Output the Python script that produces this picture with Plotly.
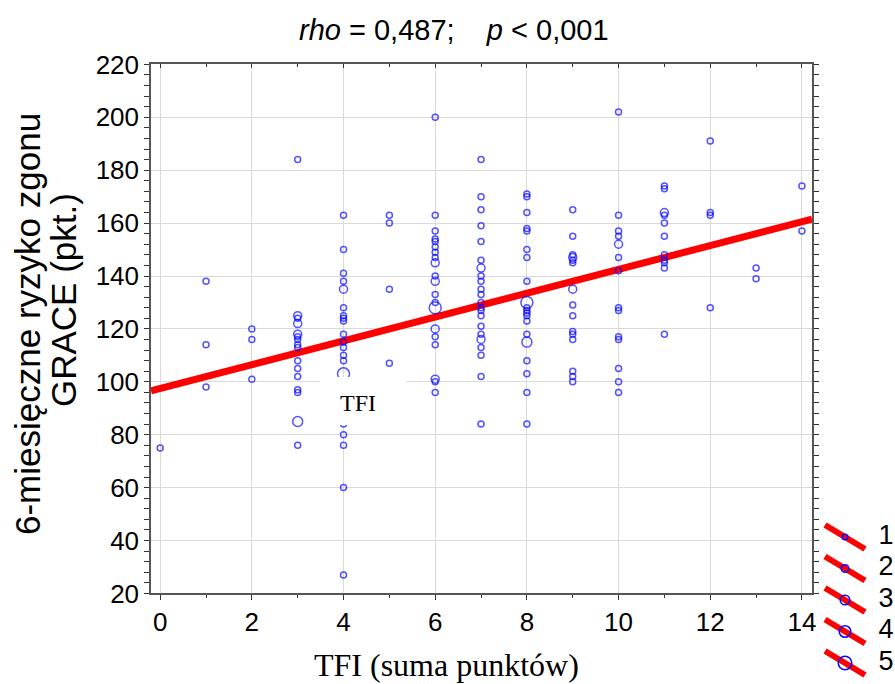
import plotly.graph_objects as go

# ---------------- data ----------------
# single points per TFI score (GRACE 6-month risk, points)
grace_tfi0 = [75]
grace_tfi1 = [138, 114, 98]
grace_tfi2 = [120, 116, 101]
grace_tfi3 = [184, 124, 117, 116, 114, 113, 108, 105, 102, 97, 96, 76]
grace_tfi4 = [163, 150, 141, 138, 128, 125, 124, 123, 118, 115, 113, 110, 108, 84, 80, 76, 60, 27]
grace_tfi5 = [163, 160, 135, 107]
grace_tfi6 = [200, 163, 157, 154, 153, 151, 149, 147, 140, 133, 130, 117, 114, 100, 96]
grace_tfi7 = [184, 170, 165, 159, 153, 146, 140, 138, 135, 133, 130, 128, 127, 125, 121, 118, 113, 110, 102, 84]
grace_tfi8 = [171, 170, 164, 158, 157, 150, 147, 138, 128, 127, 126, 125, 123, 118, 108, 103, 96, 84]
grace_tfi9 = [165, 155, 148, 146, 145, 129, 125, 119, 118, 116, 104, 102, 100]
grace_tfi10 = [202, 163, 157, 155, 147, 142, 128, 127, 117, 116, 105, 100, 96]
grace_tfi11 = [174, 173, 163, 160, 155, 148, 146, 145, 143, 118]
grace_tfi12 = [191, 164, 163, 128]
grace_tfi13 = [143, 139]
grace_tfi14 = [174, 157]

# overlapping observations (drawn as larger circles)
overlap_tfi = [3, 3, 3, 3, 4, 4, 6, 6, 6, 6, 6, 7, 7, 8, 8, 9, 9, 10, 11]
overlap_grace = [125, 122, 118, 85, 135, 103, 145, 138, 128, 120, 101, 143, 116, 130, 115, 147, 135, 152, 164]
overlap_n = [2, 2, 2, 3, 2, 4, 2, 2, 4, 2, 2, 2, 2, 4, 3, 2, 2, 2, 2]

# regression line
fit_intercept = 97.5
fit_slope = 4.5

legend_counts = [1, 2, 3, 4, 5]

x_ticks = [0, 2, 4, 6, 8, 10, 12, 14]
y_ticks = [20, 40, 60, 80, 100, 120, 140, 160, 180, 200, 220]

# ---------------- layout constants ----------------
W, H = 895, 684
PX0, PX1, PY0, PY1 = 151, 812, 64.4, 593.4
X_MIN, X_MAX = -0.2, 14.22
Y_MIN, Y_MAX = 20, 220
SIZE_PX = {1: 6, 2: 8, 3: 10, 4: 12, 5: 14}
BLUE = "#0a0aff"
RED = "#ff0000"

columns = [grace_tfi0, grace_tfi1, grace_tfi2, grace_tfi3, grace_tfi4, grace_tfi5,
           grace_tfi6, grace_tfi7, grace_tfi8, grace_tfi9, grace_tfi10, grace_tfi11,
           grace_tfi12, grace_tfi13, grace_tfi14]

xs, ys, sz = [], [], []
for score, vals in enumerate(columns):
    for v in vals:
        xs.append(score); ys.append(v); sz.append(SIZE_PX[1])
for t, g, n in zip(overlap_tfi, overlap_grace, overlap_n):
    xs.append(t); ys.append(g); sz.append(SIZE_PX[n])

fig = go.Figure()

line_x = [X_MIN, X_MAX]
line_y = [fit_intercept + fit_slope * x for x in line_x]
fig.add_trace(go.Scatter(x=line_x, y=line_y, mode="lines",
                         line=dict(color=RED, width=7), showlegend=False,
                         hoverinfo="skip"))
fig.add_trace(go.Scatter(x=xs, y=ys, mode="markers", showlegend=False,
                         marker=dict(symbol="circle-open", size=sz, color=BLUE,
                                     line=dict(width=1.5, color=BLUE))))
# empty trace so the top (inward-tick) axis is drawn
fig.add_trace(go.Scatter(x=[], y=[], xaxis="x3", yaxis="y", showlegend=False,
                         hoverinfo="skip"))

# ---- custom legend (right, outside the plot) ----
LEG_X0 = 820
LEG_H = 174
item_c0, item_step = 27.0, 31.5
for i, n in enumerate(legend_counts):
    c = item_c0 + item_step * i
    fig.add_trace(go.Scatter(x=[5, 45], y=[c - 12, c + 12], mode="lines",
                             line=dict(color=RED, width=6), xaxis="x2", yaxis="y2",
                             showlegend=False, hoverinfo="skip"))
    fig.add_trace(go.Scatter(x=[25], y=[c], mode="markers", xaxis="x2", yaxis="y2",
                             marker=dict(symbol="circle-open", size=SIZE_PX[n] - 0.5, color=BLUE,
                                         line=dict(width=1.6, color=BLUE)),
                             showlegend=False, hoverinfo="skip"))
    fig.add_trace(go.Scatter(x=[66], y=[c], mode="text", text=[str(n)],
                             textfont=dict(family="Liberation Sans", size=27, color="black"),
                             textposition="middle center", xaxis="x2", yaxis="y2",
                             cliponaxis=False, showlegend=False, hoverinfo="skip"))

tick_font = dict(family="Liberation Sans", size=26, color="black")
grid_style = dict(showgrid=True, gridcolor="#dadada", gridwidth=1.3, zeroline=False)

fig.update_layout(
    width=W, height=H,
    margin=dict(l=0, r=0, t=0, b=0),
    paper_bgcolor="white", plot_bgcolor="white",
    template="none",
    font=dict(family="Liberation Sans", color="black"),
    showlegend=False,
    xaxis=dict(domain=[PX0 / W, PX1 / W], range=[X_MIN, X_MAX],
               tickmode="array", tickvals=x_ticks,
               showline=True, linecolor="#555555", linewidth=1.5, mirror=True,
               ticks="outside", ticklen=5, tickwidth=1, tickcolor="#333333",
               minor=dict(dtick=1, tick0=0, ticks="outside", ticklen=3, tickcolor="#333333",
                          showgrid=False),
               tickfont=tick_font, **grid_style),
    xaxis3=dict(overlaying="x", anchor="y", side="top", range=[X_MIN, X_MAX],
                tickmode="array", tickvals=x_ticks, showticklabels=False,
                ticks="inside", ticklen=4, tickwidth=1, tickcolor="#333333",
                minor=dict(dtick=1, tick0=0, ticks="inside", ticklen=3, tickcolor="#333333",
                           showgrid=False),
                showgrid=False, zeroline=False, showline=False),
    yaxis=dict(domain=[1 - PY1 / H, 1 - PY0 / H], range=[Y_MIN, Y_MAX],
               tickmode="array", tickvals=y_ticks,
               showline=True, linecolor="#555555", linewidth=1.5, mirror="allticks",
               ticks="outside", ticklen=5, tickwidth=1, tickcolor="#333333",
               minor=dict(dtick=4, tick0=0, ticks="outside", ticklen=3, tickcolor="#333333",
                          showgrid=False),
               tickfont=tick_font, **grid_style),
    xaxis2=dict(domain=[LEG_X0 / W, 1], range=[0, 75], visible=False, anchor="y2"),
    yaxis2=dict(domain=[0, LEG_H / H], range=[LEG_H, 0], visible=False, anchor="x2"),
)

# white label box with "TFI" inside the plot
fig.add_shape(type="rect", xref="x", yref="y", x0=3.49, x1=5.37, y0=83.7, y1=101.8,
              fillcolor="white", line=dict(width=0), layer="above")
fig.add_annotation(x=4.32, y=92.0, xref="x", yref="y", text="TFI", showarrow=False,
                   xanchor="center", yanchor="middle",
                   font=dict(family="Liberation Serif", size=24, color="black"))


def paper_note(px, py, text, size, family="Liberation Sans", angle=0):
    fig.add_annotation(x=px / W, y=1 - py / H, xref="paper", yref="paper",
                       showarrow=False, xanchor="center", yanchor="middle",
                       text=text, textangle=angle,
                       font=dict(family=family, size=size, color="black"))


# title
paper_note(454, 30, "<i>rho</i> = 0,487;\u00a0\u00a0\u00a0\u00a0<i>p</i> &lt; 0,001", 29)
# y-axis title (two lines)
paper_note(28, 324, "6-miesięczne ryzyko zgonu", 35, angle=-90)
paper_note(63, 300, "GRACE (pkt.)", 35, angle=-90)
# x-axis title
paper_note(446, 665, "TFI (suma punktów)", 32, family="Liberation Serif")

fig.write_html("out.html")
